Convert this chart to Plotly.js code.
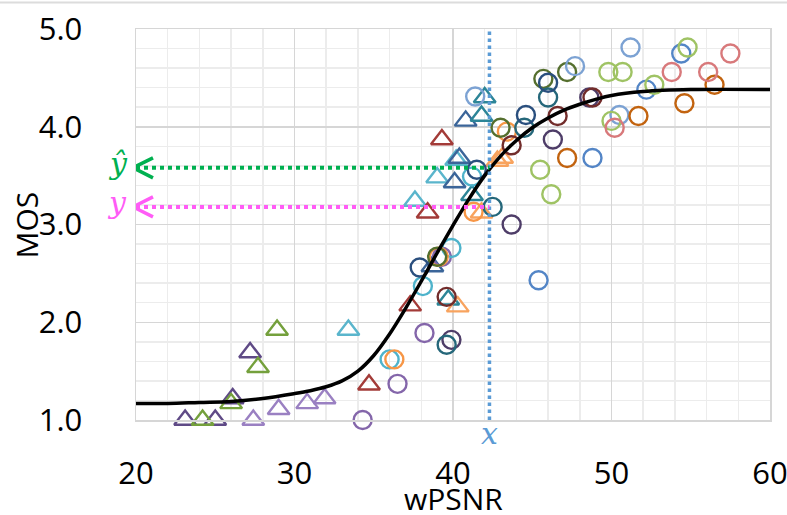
<!DOCTYPE html>
<html>
<head>
<meta charset="utf-8">
<script src="https://cdn.plot.ly/plotly-3.0.1.min.js"></script>
<style>html,body{margin:0;padding:0;background:#fff;}</style>
</head>
<body>
<div id="chart" style="width:787px;height:515px;"></div>
<script>
// ---- fitted curve ----
const curveX = [20,22,24,26,28,30,31,32,33,34,35,36,37,38,39,40,41,42,43,44,45,46,47,48,49,50,52,55,60];
const curveY = [1.17,1.17,1.18,1.19,1.22,1.27,1.30,1.34,1.40,1.50,1.66,1.88,2.14,2.42,2.71,2.99,3.26,3.50,3.70,3.86,3.99,4.09,4.17,4.23,4.28,4.32,4.36,4.38,4.38];

// ---- marked example ----
const xMark = [42.3];
const yHat = [3.58];
const yTrue = [3.18];

// ---- triangle series ----
const triDarkPurpleX = [23.1, 25.0, 26.1, 27.2];
const triDarkPurpleY = [1.00, 1.00, 1.22, 1.69];
const triLightPurpleX = [27.4, 29.0, 30.8, 31.9];
const triLightPurpleY = [1.00, 1.11, 1.17, 1.22];
const triGreenX = [24.2, 26.0, 27.7, 28.9];
const triGreenY = [1.00, 1.17, 1.54, 1.92];
const triCyanX = [33.4, 37.6, 39.0, 40.2];
const triCyanY = [1.92, 3.24, 3.48, 3.66];
const triRedX = [34.7, 37.3, 38.4, 39.3];
const triRedY = [1.36, 2.17, 3.12, 3.87];
const triNavyX = [38.7, 40.1, 40.4, 40.8];
const triNavyY = [2.57, 3.43, 3.68, 4.06];
const triTealX = [39.7, 41.2, 41.8, 42.0];
const triTealY = [2.23, 3.30, 4.11, 4.30];
const triOrangeX = [40.3, 41.8, 42.8, 43.1];
const triOrangeY = [2.16, 3.12, 3.65, 3.68];

// ---- circle series ----
const cirPurpleX = [34.3, 36.5, 38.2, 39.3];
const cirPurpleY = [1.00, 1.37, 1.89, 2.67];
const cirCyanX = [36.0, 38.1, 39.9, 41.2];
const cirCyanY = [1.62, 2.37, 2.76, 3.49];
const cirOrangeX = [36.3, 39.1, 41.3, 43.4];
const cirOrangeY = [1.62, 2.67, 3.13, 3.95];
const cirOliveX = [39.0, 43.0, 45.7, 47.2];
const cirOliveY = [2.67, 3.99, 4.49, 4.56];
const cirDarkPurpleX = [39.9, 43.7, 46.3, 48.6];
const cirDarkPurpleY = [1.82, 3.00, 3.87, 4.30];
const cirDarkRedX = [39.6, 43.7, 46.6, 48.8];
const cirDarkRedY = [2.26, 3.81, 4.11, 4.30];
const cirTealX = [39.6, 42.5, 44.5, 46.0];
const cirTealY = [1.77, 3.18, 3.99, 4.30];
const cirNavyX = [37.9, 41.5, 44.6, 46.0];
const cirNavyY = [2.56, 3.56, 4.12, 4.45];
const cirBlueX = [45.4, 48.8, 52.2, 54.4];
const cirBlueY = [2.43, 3.68, 4.38, 4.75];
const cirLightBlueX = [41.4, 47.7, 50.5, 51.2];
const cirLightBlueY = [4.31, 4.62, 4.12, 4.81];
const cirLightGreenX = [45.5, 50.0, 49.8, 54.8];
const cirLightGreenY = [3.56, 4.06, 4.56, 4.81];
const cirLightGreen2X = [46.2, 50.7, 52.7];
const cirLightGreen2Y = [3.31, 4.56, 4.43];
const cirBrownX = [47.2, 51.7, 54.6, 56.5];
const cirBrownY = [3.68, 4.11, 4.24, 4.43];
const cirPinkX = [50.2, 53.8, 56.1, 57.5];
const cirPinkY = [3.99, 4.56, 4.56, 4.75];

// ---- tick labels ----
const xTicks = [20, 30, 40, 50, 60];
const yTicks = [1, 2, 3, 4, 5];
const yTickText = ['1.0', '2.0', '3.0', '4.0', '5.0'];

function tri(x, y, color) {
  return {x: x, y: y, type: 'scatter', mode: 'markers', cliponaxis: false, hoverinfo: 'skip',
    marker: {symbol: 'triangle-up-open', size: 19, color: color, line: {color: color, width: 2.4}}};
}
function cir(x, y, color) {
  return {x: x, y: y, type: 'scatter', mode: 'markers', cliponaxis: false, hoverinfo: 'skip',
    marker: {symbol: 'circle-open', size: 18, color: color, line: {color: color, width: 2.4}}};
}

const traces = [
  tri(triDarkPurpleX, triDarkPurpleY, '#5f4a86'),
  tri(triLightPurpleX, triLightPurpleY, '#9a80c2'),
  tri(triGreenX, triGreenY, '#74a03c'),
  tri(triCyanX, triCyanY, '#5ab5cc'),
  tri(triRedX, triRedY, '#a33b38'),
  tri(triNavyX, triNavyY, '#3b6599'),
  tri(triTealX, triTealY, '#2c8597'),
  tri(triOrangeX, triOrangeY, '#f8a35e'),
  cir(cirPurpleX, cirPurpleY, '#8466aa'),
  cir(cirCyanX, cirCyanY, '#4eb3cb'),
  cir(cirOrangeX, cirOrangeY, '#f79646'),
  cir(cirOliveX, cirOliveY, '#556f2e'),
  cir(cirDarkPurpleX, cirDarkPurpleY, '#4e3d68'),
  cir(cirDarkRedX, cirDarkRedY, '#722c2b'),
  cir(cirTealX, cirTealY, '#25677a'),
  cir(cirNavyX, cirNavyY, '#2a4f7e'),
  cir(cirBlueX, cirBlueY, '#5385c6'),
  cir(cirLightBlueX, cirLightBlueY, '#7ca2d3'),
  cir(cirLightGreenX, cirLightGreenY, '#9fc364'),
  cir(cirLightGreen2X, cirLightGreen2Y, '#9fc364'),
  cir(cirBrownX, cirBrownY, '#c2630f'),
  cir(cirPinkX, cirPinkY, '#d8797b'),
  {x: curveX, y: curveY, type: 'scatter', mode: 'lines', hoverinfo: 'skip', cliponaxis: false,
   line: {color: '#000000', width: 3.5, shape: 'spline', smoothing: 1}}
];

const green = '#00b050', magenta = '#ff5cf6', blue = '#5b9bd5';

const layout = {
  width: 787, height: 515,
  margin: {l: 136, r: 17, t: 29, b: 95, pad: 0},
  paper_bgcolor: '#ffffff', plot_bgcolor: '#ffffff',
  showlegend: false,
  font: {family: 'Open Sans, sans-serif', color: '#000000'},
  xaxis: {
    range: [20, 60], tickvals: xTicks, ticktext: xTicks.map(String),
    showgrid: true, gridcolor: '#d6d6d6', gridwidth: 1.5,
    minor: {dtick: 2, tick0: 20, showgrid: true, gridcolor: '#ececec', gridwidth: 1.5},
    zeroline: false, showline: true, linecolor: '#d6d6d6', linewidth: 1.5, mirror: true,
    ticks: '', tickfont: {size: 31, color: '#000'}, ticklabelstandoff: 25,
    ticklabeloverflow: 'allow'
  },
  yaxis: {
    range: [1, 5], tickvals: yTicks, ticktext: yTickText,
    showgrid: true, gridcolor: '#d6d6d6', gridwidth: 1.5,
    minor: {dtick: 0.2, tick0: 1, showgrid: true, gridcolor: '#ececec', gridwidth: 1.5},
    zeroline: false, showline: true, linecolor: '#d6d6d6', linewidth: 1.5, mirror: true,
    ticks: '', tickfont: {size: 31, color: '#000'}, ticklabelstandoff: 46,
    ticklabeloverflow: 'allow'
  },
  shapes: [
    {type: 'line', xref: 'paper', yref: 'paper', x0: -0.215, x1: 1.03, y0: 1.068, y1: 1.068,
     line: {color: '#dcdcdc', width: 2}},
    {type: 'line', xref: 'x', yref: 'y', x0: xMark[0], x1: xMark[0], y0: 1, y1: 5,
     line: {color: blue, width: 3.5, dash: 'dot'}, layer: 'above'},
    {type: 'line', xref: 'x', yref: 'y', x0: 20, x1: xMark[0], y0: yHat[0], y1: yHat[0],
     line: {color: green, width: 4, dash: 'dot'}, layer: 'above'},
    {type: 'line', xref: 'x', yref: 'y', x0: 20, x1: xMark[0], y0: yTrue[0], y1: yTrue[0],
     line: {color: magenta, width: 4, dash: 'dot'}, layer: 'above'},
    {type: 'path', xref: 'x', yref: 'y', xsizemode: 'pixel', ysizemode: 'pixel',
     xanchor: 20, yanchor: yHat[0], path: 'M 17,10 L -3,0 L 17,-10',
     line: {color: green, width: 3.5}, layer: 'above'},
    {type: 'path', xref: 'x', yref: 'y', xsizemode: 'pixel', ysizemode: 'pixel',
     xanchor: 20, yanchor: yTrue[0], path: 'M 17,10 L -3,0 L 17,-10',
     line: {color: magenta, width: 3.5}, layer: 'above'}
  ],
  annotations: [
    {xref: 'paper', yref: 'paper', x: -0.172, y: 0.5, text: 'MOS', showarrow: false, textangle: -90,
     xanchor: 'center', yanchor: 'middle', font: {family: 'Open Sans, sans-serif', size: 30, color: '#000'}},
    {xref: 'paper', yref: 'paper', x: 0.5, y: -0.2, text: 'wPSNR', showarrow: false,
     xanchor: 'center', yanchor: 'middle', font: {family: 'Open Sans, sans-serif', size: 30, color: '#000'}},
    {xref: 'paper', yref: 'y', x: -0.028, y: yHat[0], text: '<i>ŷ</i>', showarrow: false,
     xanchor: 'center', yanchor: 'middle', yshift: 4,
     font: {family: 'DejaVu Serif, serif', size: 30, color: green}},
    {xref: 'paper', yref: 'y', x: -0.030, y: yTrue[0], text: '<i>y</i>', showarrow: false,
     xanchor: 'center', yanchor: 'middle', yshift: 4,
     font: {family: 'DejaVu Serif, serif', size: 30, color: magenta}},
    {xref: 'x', yref: 'paper', x: xMark[0], y: -0.035, text: '<i>x</i>', showarrow: false,
     xanchor: 'center', yanchor: 'middle',
     font: {family: 'DejaVu Serif, serif', size: 30, color: blue}}
  ]
};

Plotly.newPlot('chart', traces, layout, {displayModeBar: false, staticPlot: true});
</script>
</body>
</html>
